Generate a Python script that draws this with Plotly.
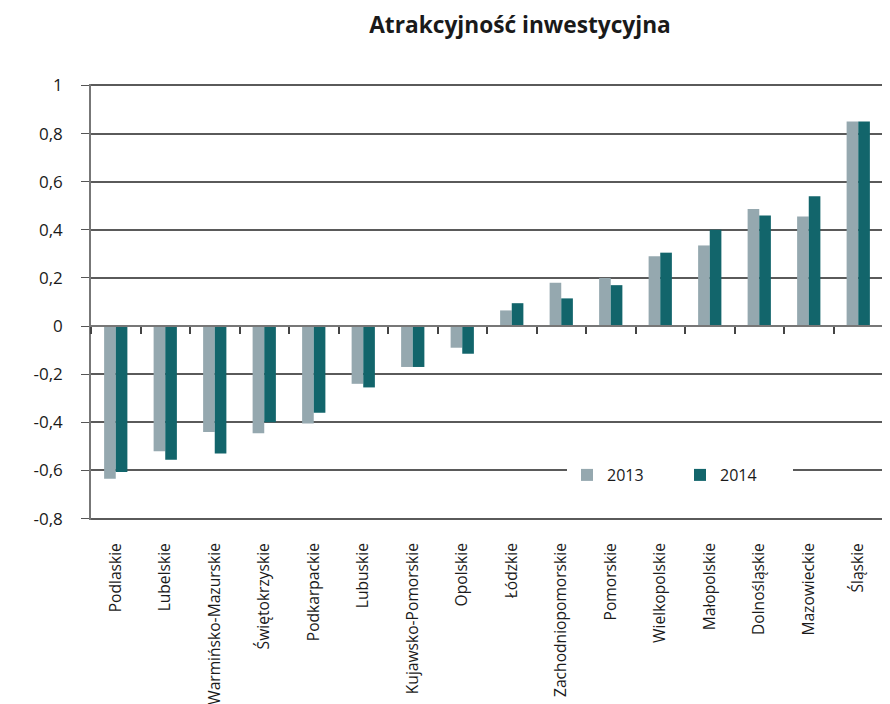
import plotly.graph_objects as go

regions = ["Podlaskie", "Lubelskie", "Warmińsko-Mazurskie", "Świętokrzyskie", "Podkarpackie",
           "Lubuskie", "Kujawsko-Pomorskie", "Opolskie", "Łódzkie", "Zachodniopomorskie",
           "Pomorskie", "Wielkopolskie", "Małopolskie", "Dolnośląskie", "Mazowieckie", "Śląskie"]
v2013 = [-0.635, -0.52, -0.44, -0.445, -0.405, -0.24, -0.17, -0.09, 0.065, 0.18,
         0.20, 0.29, 0.335, 0.487, 0.455, 0.85]
v2014 = [-0.607, -0.556, -0.53, -0.40, -0.36, -0.255, -0.17, -0.115, 0.095, 0.115,
         0.17, 0.305, 0.40, 0.46, 0.54, 0.85]
ytick_vals = [1, 0.8, 0.6, 0.4, 0.2, 0, -0.2, -0.4, -0.6, -0.8]
ytick_text = ["1", "0,8", "0,6", "0,4", "0,2", "0", "-0,2", "-0,4", "-0,6", "-0,8"]
grid_vals = [1, 0.8, 0.6, 0.4, 0.2, -0.2, -0.4, -0.6, -0.8]
series_names = ["2013", "2014"]
colors = ["#95a8af", "#12656b"]

idx = list(range(len(regions)))
boundaries = [i - 0.5 for i in range(len(regions) + 1)]
FONT = "Open Sans"
TXT = "#1a1a1a"

# page body has an 8px margin; figure sized to fit the 890x704 window
W, H = 882, 696
L, R, T, B = 83, 7, 76, 184

fig = go.Figure()
for name, vals, col in zip(series_names, [v2013, v2014], colors):
    fig.add_trace(go.Bar(x=idx, y=vals, name=name, marker=dict(color=col, line=dict(width=0))))

ymin, ymax = -0.806, 1.006
plot_w = W - L - R
plot_h = H - T - B
fig.update_layout(
    width=W, height=H,
    margin=dict(l=L, r=R, t=T, b=B, autoexpand=False),
    paper_bgcolor="white", plot_bgcolor="white",
    barmode="group", bargap=0.53, bargroupgap=0,
    font=dict(family=FONT, size=16, color=TXT),
    title=dict(text="<b>Atrakcyjność inwestycyjna</b>", x=512 / W, xref="container", xanchor="center",
               y=1 - 17 / H, yref="container", yanchor="middle",
               font=dict(family=FONT, size=22.7, color=TXT)),
    xaxis=dict(range=[-0.5, len(regions) - 0.5], tickmode="array", tickvals=idx, ticktext=regions,
               tickangle=-90, ticks="", showgrid=False, showline=False, zeroline=False, automargin=False,
               tickfont=dict(family=FONT, size=15.6, color=TXT), ticklabelstandoff=19),
    xaxis2=dict(overlaying="x", matches="x", anchor="free", position=(0 - ymin) / (ymax - ymin),
                tickmode="array", tickvals=boundaries, ticks="outside", ticklen=7, tickwidth=1.5,
                tickcolor="#444444", showticklabels=False, showgrid=False, showline=True,
                linecolor="#777777", linewidth=2, zeroline=False, automargin=False),
    yaxis=dict(range=[ymin, ymax], tickmode="array", tickvals=ytick_vals, ticktext=ytick_text,
               ticks="outside", ticklen=8, tickcolor="#555555", tickwidth=1.3,
               showline=True, linecolor="#777777", linewidth=1.5, showgrid=False, zeroline=False,
               automargin=False, ticklabelstandoff=15,
               tickfont=dict(family=FONT, size=17, color=TXT)),
    yaxis2=dict(overlaying="y", matches="y", tickmode="array", tickvals=grid_vals,
                showticklabels=False, ticks="", showgrid=True, gridcolor="#5a5a5a", gridwidth=1.5,
                zeroline=False, showline=False, automargin=False),
    legend=dict(orientation="h", x=(559 - L) / plot_w, xanchor="left",
                y=(H - B - 467) / plot_h, yanchor="middle",
                bgcolor="white", font=dict(family=FONT, size=16, color=TXT),
                itemwidth=30, traceorder="normal", entrywidth=68),
    showlegend=True,
)
fig.add_trace(go.Scatter(x=[0], y=[0], xaxis="x2", yaxis="y2", mode="markers",
                         marker=dict(opacity=0), showlegend=False, hoverinfo="skip"))
fig.write_html("out.html")
